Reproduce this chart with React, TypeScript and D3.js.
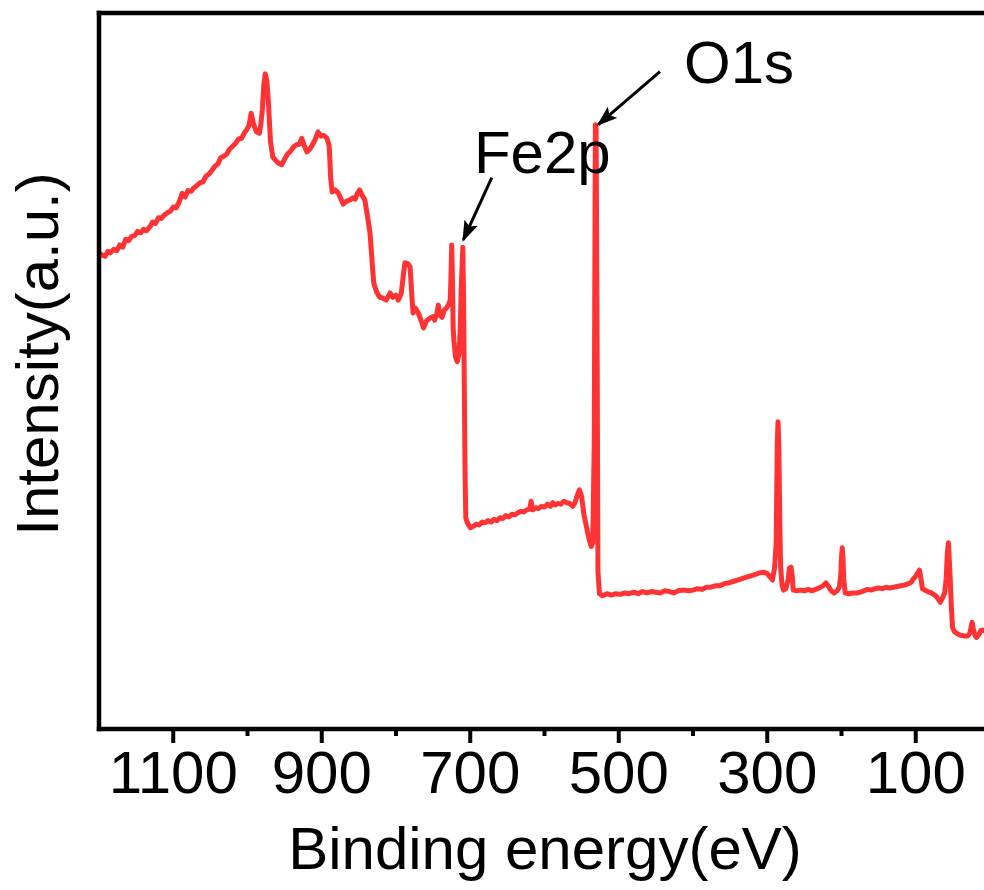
import React from "react";
import * as d3 from "d3";

// Binding energy (eV), descending
const energy: number[] = [
  1200, 1197, 1192, 1188, 1185, 1180, 1176, 1172, 1168, 1164, 1160, 1156, 1152, 1148, 1144, 1140, 1136, 1131, 1128, 1124,
  1120, 1116, 1112, 1108, 1104, 1100, 1096, 1092, 1088, 1084, 1080, 1076, 1072, 1068, 1064, 1060, 1056, 1052, 1048, 1044,
  1040, 1036, 1032, 1028, 1024, 1020, 1016, 1012, 1008, 1004, 1001, 998, 995, 992, 988, 984, 982, 980, 978, 976,
  974, 972, 969, 966, 962, 958, 954, 950, 946, 943, 938, 934, 930, 927, 924, 920, 916, 913, 909, 905,
  901, 897, 893, 890, 888, 886, 882, 878, 874, 871, 867, 862, 858, 855, 852, 849, 846, 842, 839, 835,
  832, 830, 826, 822, 818, 813, 808, 804, 800, 797, 793, 790, 788, 784, 781, 779, 777, 774, 770, 766,
  763, 759, 754, 750, 748, 745, 743, 741, 738, 735, 732, 729, 727, 726, 725, 724, 723, 722, 720, 717.5,
  715, 713.5, 712, 710, 709, 708, 707, 706, 704, 700, 696, 692, 688, 684, 680, 676, 672, 668, 664, 660,
  656, 652, 648, 644, 640, 636, 632, 628, 624, 620, 618, 616, 612, 608, 604, 600, 596, 592, 589, 586,
  582, 578, 574, 570, 566, 562, 559, 556, 553, 550, 547, 543, 540, 537, 535, 533, 531.5, 530.5, 529, 528,
  526, 522, 516, 510, 504, 498, 492, 486, 480, 474, 468, 462, 456, 450, 444, 438, 432, 426, 420, 412,
  406, 400, 394, 388, 382, 376, 370, 364, 358, 352, 346, 340, 334, 328, 322, 316, 310, 305, 300, 296,
  293, 290, 288, 286.5, 285.5, 284.5, 283, 282, 280, 278, 275, 272, 270, 268, 266, 265, 260, 255, 250, 245,
  240, 235, 230, 225, 221, 218, 214, 210, 206, 203, 201, 200, 199, 198, 197, 195, 190, 185, 180, 175,
  170, 165, 160, 155, 150, 145, 140, 135, 130, 125, 120, 115, 110, 106, 103, 101, 98, 95, 93, 91,
  89, 86, 82, 79, 76, 73, 70, 67, 64, 61, 59, 57.5, 56, 55, 53.5, 52, 50.5, 48, 44, 40,
  35, 30, 27, 25, 24, 22.5, 20, 18, 15, 12, 8, 5, 0,
];

// Intensity (a.u.)
const intensity: number[] = [
  66.0, 66.3, 66.0, 66.7, 66.5, 67.0, 66.8, 67.6, 67.3, 68.4, 68.2, 68.8, 68.9, 69.5, 69.3, 69.8, 69.6, 70.2, 70.8, 70.6,
  71.4, 71.3, 71.8, 72.1, 72.3, 72.9, 72.8, 73.6, 74.8, 74.3, 75.2, 75.1, 75.6, 75.9, 76.3, 76.4, 77.2, 77.5, 78.0, 78.6,
  78.9, 79.8, 80.0, 80.3, 81.0, 81.4, 81.8, 82.4, 82.5, 83.3, 83.7, 84.3, 86.0, 84.5, 83.4, 83.2, 84.5, 86.5, 90.0, 91.5,
  90.5, 87.8, 82.0, 79.9, 79.4, 79.0, 78.8, 79.6, 80.3, 80.6, 81.3, 81.6, 81.7, 82.5, 81.6, 80.6, 81.0, 81.5, 82.3, 83.4,
  82.8, 82.9, 82.5, 81.5, 77.0, 75.0, 75.3, 74.9, 74.0, 73.3, 73.7, 73.9, 74.2, 74.0, 74.8, 75.3, 74.6, 73.9, 72.0, 69.3,
  65.0, 62.3, 61.0, 60.3, 60.2, 59.9, 60.9, 60.3, 60.6, 59.9, 60.8, 63.5, 65.1, 65.0, 64.5, 61.0, 58.1, 58.8, 58.1, 57.0,
  56.0, 57.0, 57.4, 57.6, 57.1, 58.0, 59.2, 57.8, 57.5, 58.5, 58.8, 59.3, 59.9, 63.0, 67.6, 63.0, 56.0, 54.3, 52.0, 51.3,
  52.5, 56.0, 62.0, 67.3, 60.0, 47.8, 36.0, 29.5, 28.8, 28.1, 28.3, 28.6, 28.5, 28.9, 28.8, 29.1, 28.9, 29.3, 29.1, 29.5,
  29.4, 29.8, 29.6, 30.0, 29.9, 30.2, 30.4, 30.3, 30.6, 30.7, 31.8, 30.6, 30.9, 30.8, 31.1, 31.0, 31.4, 31.1, 31.6, 31.3,
  31.5, 31.4, 31.8, 31.6, 31.5, 31.1, 31.6, 32.6, 33.4, 32.5, 30.0, 28.0, 26.5, 25.5, 26.0, 40.0, 84.4, 84.0, 50.0, 22.0,
  18.9, 18.6, 18.9, 18.7, 18.9, 18.8, 19.0, 18.9, 19.1, 18.9, 19.2, 19.0, 19.2, 19.1, 19.0, 19.3, 19.2, 19.0, 19.3, 19.4,
  19.3, 19.4, 19.6, 19.5, 19.8, 19.8, 20.0, 20.0, 20.3, 20.4, 20.6, 20.8, 21.0, 21.2, 21.4, 21.6, 21.8, 21.9, 21.7, 21.2,
  20.8, 22.6, 26.0, 40.0, 42.9, 40.0, 28.0, 22.6, 20.0, 19.4, 19.6, 20.8, 22.5, 22.6, 21.0, 19.4, 19.3, 19.4, 19.3, 19.5,
  19.3, 19.5, 19.7, 20.0, 20.4, 20.0, 19.3, 19.0, 19.3, 19.8, 21.5, 24.0, 25.3, 24.0, 21.0, 19.0, 18.9, 19.0, 19.0, 19.1,
  19.3, 19.5, 19.4, 19.6, 19.7, 19.6, 19.8, 19.7, 19.8, 19.9, 20.0, 20.1, 20.3, 20.5, 21.0, 21.2, 21.7, 22.2, 21.0, 19.6,
  19.5, 19.3, 19.1, 19.0, 18.8, 18.6, 18.2, 17.7, 18.3, 19.0, 21.0, 24.5, 26.0, 24.0, 20.8, 17.0, 14.2, 13.6, 13.3, 13.1,
  13.0, 13.0, 13.4, 14.5, 14.9, 14.0, 13.0, 12.8, 13.2, 13.8, 13.8, 13.5, 13.4,
];

const majorTicks: number[] = [1100, 900, 700, 500, 300, 100];
const minorTicks: number[] = [1000, 800, 600, 400, 200];

// Annotations
const annLabels: string[] = ["Fe2p", "O1s"];
const annTextE: number[] = [695, 412];
const annTextI: number[] = [77.7, 90.2];
const annTailE: number[] = [671, 444.5];
const annTailI: number[] = [77.0, 91.8];
const annTipE: number[] = [709.4, 527.6];
const annTipI: number[] = [68.3, 84.4];

const xTitle = "Binding energy(eV)";
const yTitle = "Intensity(a.u.)";

export default function App() {
  const W = 984;
  const H = 890;
  const left = 99;
  const right = 990;
  const top = 13;
  const bottom = 729;
  const font = "'Liberation Sans', Arial, Helvetica, sans-serif";

  const x = d3.scaleLinear().domain([1200, 0]).range([left, right]);
  const y = d3.scaleLinear().domain([0, 100]).range([bottom, top]);

  const pts: [number, number][] = energy.map((e, i) => [e, intensity[i]]);
  const line = d3
    .line<[number, number]>()
    .x((d) => x(d[0]))
    .y((d) => y(d[1]));

  const red = "#ff3333";

  return (
    <svg
      width={W}
      height={H}
      style={{ position: "absolute", left: 0, top: 0, background: "#fff" }}
    >
      <defs>
        <marker
          id="ah"
          viewBox="0 0 10 7"
          refX="9"
          refY="3.5"
          markerWidth="7"
          markerHeight="4.9"
          markerUnits="strokeWidth"
          orient="auto"
        >
          <path d="M0,0 L10,3.5 L0,7 L2,3.5 Z" fill="#000" />
        </marker>
      </defs>
      <rect x={0} y={0} width={W} height={H} fill="#fff" />

      <path d={line(pts) || ""} fill="none" stroke={red} strokeWidth={5} strokeLinejoin="round" />

      {/* frame */}
      <line x1={left} x2={left} y1={top} y2={bottom} stroke="#000" strokeWidth={4.5} strokeLinecap="square" />
      <line x1={left} x2={right} y1={top} y2={top} stroke="#000" strokeWidth={4.5} strokeLinecap="square" />
      <line x1={left} x2={right} y1={bottom} y2={bottom} stroke="#000" strokeWidth={4.5} strokeLinecap="square" />
      <line x1={right} x2={right} y1={top} y2={bottom} stroke="#000" strokeWidth={4.5} />

      {majorTicks.map((t) => (
        <line key={"M" + t} x1={x(t)} x2={x(t)} y1={bottom} y2={bottom + 14} stroke="#000" strokeWidth={4} />
      ))}
      {minorTicks.map((t) => (
        <line key={"m" + t} x1={x(t)} x2={x(t)} y1={bottom} y2={bottom + 7} stroke="#000" strokeWidth={4} />
      ))}
      {majorTicks.map((t) => (
        <text
          key={"L" + t}
          x={x(t)}
          y={793}
          textAnchor="middle"
          fontFamily={font}
          fontSize={60}
          fill="#000"
        >
          {t}
        </text>
      ))}

      <text x={545} y={869} textAnchor="middle" fontFamily={font} fontSize={60} fill="#000">
        {xTitle}
      </text>
      <text
        transform={`translate(58,354) rotate(-90)`}
        textAnchor="middle"
        fontFamily={font}
        fontSize={60}
        fill="#000"
      >
        {yTitle}
      </text>

      {annLabels.map((lab, i) => (
        <g key={lab}>
          <line
            x1={x(annTailE[i])}
            y1={y(annTailI[i])}
            x2={x(annTipE[i])}
            y2={y(annTipI[i])}
            stroke="#000"
            strokeWidth={3}
            markerEnd="url(#ah)"
          />
          <text x={x(annTextE[i])} y={y(annTextI[i])} fontFamily={font} fontSize={60} fill="#000">
            {lab}
          </text>
        </g>
      ))}
    </svg>
  );
}
